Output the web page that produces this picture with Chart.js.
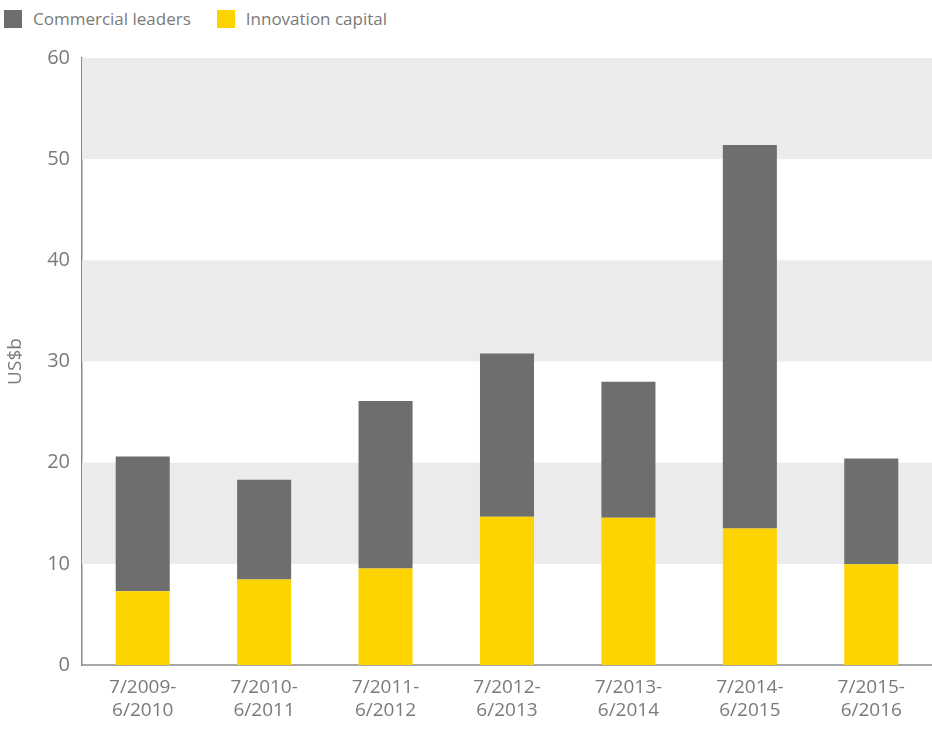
<!DOCTYPE html>
<html>
<head>
<meta charset="utf-8">
<script src="https://cdn.jsdelivr.net/npm/chart.js@4/dist/chart.umd.min.js"></script>
<style>
  html, body { margin: 0; padding: 0; background: #fff; }
  #wrap { position: relative; width: 932px; height: 730px; }
  #legend { position: absolute; left: 4px; top: 7px; display: flex; font-family: "Open Sans", "Noto Sans", sans-serif; font-size: 17px; color: #7a7a7a; }
  #legend .item { display: flex; align-items: center; margin-right: 26px; }
  #legend .box { width: 18px; height: 18px; margin-right: 11px; }
  canvas { position: absolute; left: 0; top: 0; }
</style>
</head>
<body>
<div id="wrap">
  <div id="legend"></div>
  <canvas id="chart" width="932" height="730"></canvas>
</div>
<script>
document.addEventListener('DOMContentLoaded', function(){
  const periods = [
    ['7/2009-', '6/2010'],
    ['7/2010-', '6/2011'],
    ['7/2011-', '6/2012'],
    ['7/2012-', '6/2013'],
    ['7/2013-', '6/2014'],
    ['7/2014-', '6/2015'],
    ['7/2015-', '6/2016']
  ];
  const innovationCapital = [7.3, 8.45, 9.55, 14.65, 14.55, 13.5, 9.95];
  const commercialLeaders = [13.3, 9.85, 16.55, 16.15, 13.45, 37.9, 10.45];
  const yTicks = [0, 10, 20, 30, 40, 50, 60];

  const GREY = '#6e6e6e';
  const YELLOW = '#fdd400';
  const TEXT = '#7a7a7a';
  const FONT = '"Open Sans", "Noto Sans", sans-serif';

  // alternating shaded bands behind the bars (10-20, 30-40, 50-60)
  const bands = {
    id: 'bands',
    beforeDatasetsDraw(chart){
      const {ctx, chartArea} = chart;
      const y = chart.scales.y;
      ctx.save();
      ctx.fillStyle = '#ebebeb';
      for (let i = 1; i < yTicks.length - 1; i += 2) {
        const top = y.getPixelForValue(yTicks[i + 1]);
        const bot = y.getPixelForValue(yTicks[i]);
        ctx.fillRect(chartArea.left, top, chartArea.right - chartArea.left, bot - top);
      }
      ctx.restore();
    }
  };

  const chart = new Chart(document.getElementById('chart'), {
    type: 'bar',
    data: {
      labels: periods,
      datasets: [
        { label: 'Innovation capital', data: innovationCapital, backgroundColor: YELLOW },
        { label: 'Commercial leaders', data: commercialLeaders, backgroundColor: GREY }
      ]
    },
    options: {
      responsive: false,
      animation: false,
      layout: { padding: { top: 58, right: 0, left: 0, bottom: 0 } },
      datasets: { bar: { categoryPercentage: 1, barPercentage: 0.445 } },
      plugins: { legend: { display: false }, tooltip: { enabled: false } },
      scales: {
        x: {
          stacked: true,
          grid: { display: false, drawTicks: false },
          border: { display: true, color: '#a8a8a8', width: 2 },
          ticks: { color: TEXT, font: { family: FONT, size: 19, lineHeight: 1.22 }, padding: 11, maxRotation: 0 },
          afterFit(scale){ scale.height = 65; }
        },
        y: {
          stacked: true,
          min: 0,
          max: 60,
          grid: { display: false, drawTicks: false },
          border: { display: true, color: '#8a8a8a', width: 1.5 },
          ticks: { stepSize: 10, color: TEXT, font: { family: FONT, size: 20 }, padding: 12 },
          title: { display: true, text: 'US$b', color: TEXT, font: { family: FONT, size: 19 }, padding: { top: 4, bottom: 0 } },
          afterFit(scale){ scale.width = 82; }
        }
      }
    },
    plugins: [bands]
  });

  // legend: Commercial leaders first, then Innovation capital
  const legend = document.getElementById('legend');
  [1, 0].forEach(function(i){
    const ds = chart.data.datasets[i];
    const item = document.createElement('div');
    item.className = 'item';
    item.innerHTML = '<span class="box" style="background:' + ds.backgroundColor + '"></span>' + ds.label;
    legend.appendChild(item);
  });
});
</script>
</body>
</html>
